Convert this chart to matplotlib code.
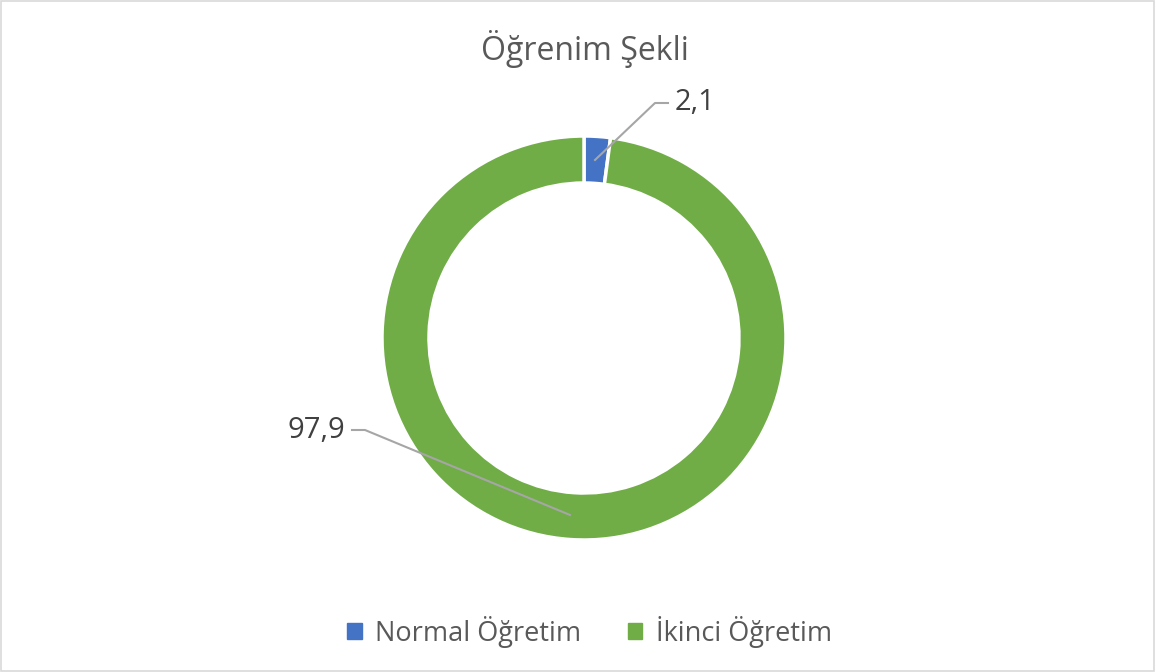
import matplotlib.pyplot as plt
from matplotlib.patches import Rectangle

labels = ['Normal Öğretim', 'İkinci Öğretim']
values = [2.1, 97.9]
value_text = ['2,1', '97,9']
colors = ['#4472C4', '#70AD47']

plt.rcParams['font.family'] = ['Open Sans', 'DejaVu Sans']

fig = plt.figure(figsize=(11.56, 6.72), dpi=100)
ax = fig.add_axes([0, 0, 1, 1])

# halka grafik
wedges, _ = ax.pie(values, colors=colors, startangle=90, counterclock=False,
                   center=(584, 334), radius=202, frame=True,
                   wedgeprops=dict(width=47, edgecolor='white', linewidth=2.5))
ax.set_xlim(0, 1156)
ax.set_ylim(0, 672)
ax.set_aspect('equal')
ax.axis('off')

# etiketler ve çizgiler
ax.plot([595, 655, 668], [512, 569, 569], color='#A6A6A6', lw=1.5)
ax.text(675, 569, value_text[0], fontsize=21, color='#404040', va='center', ha='left')
ax.plot([570, 365, 352], [157, 242, 242], color='#A6A6A6', lw=1.5)
ax.text(345, 242, value_text[1], fontsize=21, color='#404040', va='center', ha='right')

ax.text(585, 623, 'Öğrenim Şekli', fontsize=23, color='#595959', ha='center', va='center')

handles = [Rectangle((0, 0), 1, 1, color=c) for c in colors]
fig.legend(handles, labels, loc='center', bbox_to_anchor=(0.51, 0.06), ncol=2,
           frameon=False, fontsize=19.5, handlelength=0.55, handleheight=0.55,
           handletextpad=0.5, columnspacing=1.7, labelcolor='#595959')

fig.add_artist(Rectangle((0.001, 0.002), 0.997, 0.996, transform=fig.transFigure,
                         fill=False, edgecolor='#D9D9D9', lw=1.2))

fig.savefig('out.png', dpi=100)
